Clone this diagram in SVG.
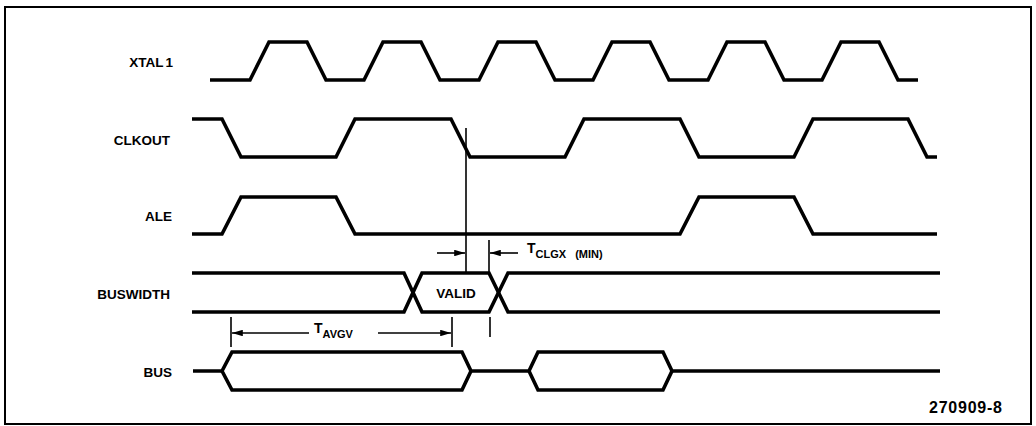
<svg xmlns="http://www.w3.org/2000/svg" width="1036" height="426" viewBox="0 0 1036 426">
<defs>
<marker id="ah" viewBox="0 0 10 6" refX="10" refY="3" markerWidth="11" markerHeight="6.5" markerUnits="userSpaceOnUse" orient="auto"><path d="M0,0 L10,3 L0,6 z" fill="#000"/></marker>
</defs>
<style>
.w{fill:none;stroke:#000;stroke-width:3.6;stroke-linejoin:miter;stroke-linecap:butt}
.t{fill:none;stroke:#000;stroke-width:1.6}
.lbl{font-family:"Liberation Sans",Arial,sans-serif;font-weight:bold;font-size:13.5px;fill:#000}
.sym{font-family:"Liberation Sans",Arial,sans-serif;font-weight:bold;font-size:14px;fill:#000}
.sub{font-size:11px}
</style>
<rect width="1036" height="426" fill="#fff"/>
<rect x="5" y="7" width="1026" height="417" fill="none" stroke="#000" stroke-width="2"/>

<g id="xtal1">
<text class="lbl" x="173" y="67" text-anchor="end">XTAL<tspan dx="2">1</tspan></text>
<polyline class="w" points="210,80 250,80 269,42 307,42 326,80 364,80 383,42 421,42 440,80 479,80 498,42 536,42 555,80 593,80 612,42 650,42 669,80 708,80 727,42 765,42 784,80 822,80 841,42 879,42 898,80 918,80"/>
</g>

<g id="clkout">
<text class="lbl" x="170" y="145" text-anchor="end">CLKOUT</text>
<polyline class="w" points="192,119 222,119 241,157 336,157 355,119 451,119 470,157 565,157 584,119 680,119 699,157 794,157 813,119 908,119 927,157 937,157"/>
</g>

<g id="ale">
<text class="lbl" x="172" y="221" text-anchor="end">ALE</text>
<polyline class="w" points="192,234 222,234 241,197 336,197 355,234 680,234 699,197 794,197 813,234 937,234"/>
</g>

<g id="buswidth">
<text class="lbl" x="170" y="299" text-anchor="end">BUSWIDTH</text>
<path class="w" d="M192,273 H404 L422,312 H489 L508,273 H940"/>
<path class="w" d="M192,312 H404 L422,273 H489 L508,312 H940"/>
<text class="lbl" x="456" y="298" text-anchor="middle">VALID</text>
</g>

<g id="bus">
<text class="lbl" x="172" y="377" text-anchor="end">BUS</text>
<path class="w" d="M193,371 H222 L232,352 H462 L471,371 H529 L538,352 H663 L672,371 H940"/>
<path class="w" d="M222,371 L232,390 H462 L471,371 M529,371 L538,390 H663 L672,371"/>
</g>

<g id="connectors">
<path class="t" d="M466,128 V272"/>
<line class="t" x1="437" y1="253" x2="465" y2="253" marker-end="url(#ah)"/>
<path class="t" d="M489,240 V272"/>
<line class="t" x1="518" y1="253" x2="490" y2="253" marker-end="url(#ah)"/>
<path class="t" d="M490,317 V337"/>
<path class="t" d="M231,317 V347 M452,317 V347"/>
<line class="t" x1="309" y1="333" x2="232" y2="333" marker-end="url(#ah)"/>
<line class="t" x1="378" y1="333" x2="451" y2="333" marker-end="url(#ah)"/>
</g>

<g id="tclgx">
<text class="sym" x="527" y="253">T<tspan class="sub" dy="5">CLGX</tspan><tspan class="sub" dx="9">(MIN)</tspan></text>
</g>
<g id="tavgv">
<text class="sym" x="314" y="333">T<tspan class="sub" dy="5">AVGV</tspan></text>
</g>

<g id="figid">
<text class="lbl" x="929" y="413" style="font-size:16px" textLength="73">270909-8</text>
</g>
</svg>
